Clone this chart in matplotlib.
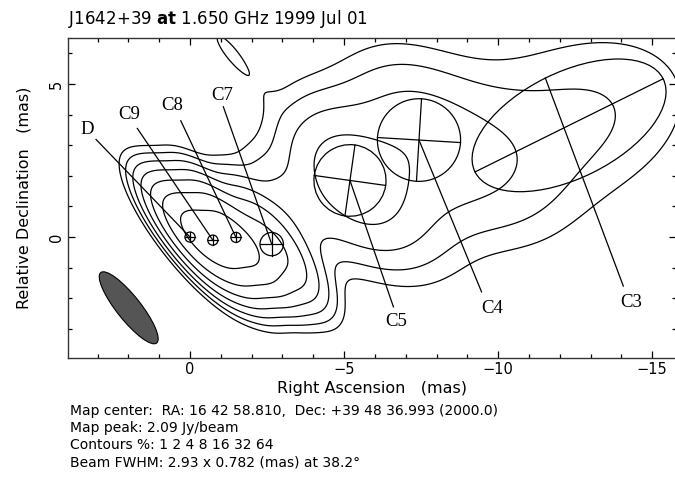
import numpy as np
import matplotlib
matplotlib.use("Agg")
import matplotlib.pyplot as plt
from matplotlib.patches import Ellipse
from matplotlib.ticker import MultipleLocator

# ------------------------------------------------------------
# Model-fit components (offsets in mas, flux in Jy, FWHM in mas,
# position angle in deg, north through east)
# ------------------------------------------------------------
comp_names = ["D", "C9", "C8", "C7", "C5", "C4", "C3"]
comp_ra = [0.0, -0.74, -1.49, -2.65, -5.19, -7.43, -12.30]
comp_dec = [0.0, -0.10, -0.01, -0.23, 1.85, 3.17, 3.65]
comp_flux = [1.0, 1.5, 1.5, 1.0, 0.85, 0.42, 0.60]
comp_maj = [0.33, 0.33, 0.33, 0.76, 2.34, 2.70, 6.82]
comp_min = [0.33, 0.33, 0.33, 0.76, 2.34, 2.70, 3.45]
comp_pa = [0.0, 0.0, 0.0, 0.0, 82.0, 86.5, -63.5]

# faint extended emission around the jet (not labelled)
ext_ra = [-5.0, -7.2, -9.8, -7.0, -3.2, -1.3]
ext_dec = [2.4, 3.5, 2.4, 0.5, 0.9, 6.05]
ext_flux = [0.05, 0.19, 0.22, 0.12, 0.12, 0.022]
ext_fwhm = [3.0, 4.0, 3.0, 2.5, 1.0, 0.0]

# label text positions and start of the leader lines
lab_ra = [3.35, 1.98, 0.59, -1.05, -6.68, -9.79, -14.33]
lab_dec = [3.50, 3.99, 4.31, 4.64, -2.77, -2.33, -2.13]
lead_ra = [3.05, 1.71, 0.30, -1.08, -6.60, -9.46, -14.06]
lead_dec = [3.19, 3.55, 3.80, 4.26, -2.28, -1.79, -1.60]

beam_maj, beam_min, beam_pa = 2.93, 0.782, 38.2
beam_ra, beam_dec = 1.99, -2.31

contour_pct = [1, 2, 4, 8, 16, 32, 64]
map_peak = 2.09

title_txt = r"J1642+39 $\mathbf{at}$ 1.650 GHz 1999 Jul 01"
info_lines = [
    "Map center:  RA: 16 42 58.810,  Dec: +39 48 36.993 (2000.0)",
    "Map peak: %.2f Jy/beam" % map_peak,
    "Contours %%: %s" % " ".join(str(p) for p in contour_pct),
    "Beam FWHM: %.2f x %.3f (mas) at %.1f\u00b0" % (beam_maj, beam_min, beam_pa),
]


def cov(maj, mn, pa):
    k = 1.0 / (2.0 * np.sqrt(2.0 * np.log(2.0)))
    t = np.radians(pa)
    u = np.array([np.sin(t), np.cos(t)])
    v = np.array([np.cos(t), -np.sin(t)])
    return (maj * k) ** 2 * np.outer(u, u) + (mn * k) ** 2 * np.outer(v, v)


def restored(ra, dec, gx, gy, flux, maj, mn, pa):
    """Component convolved with the restoring beam, in Jy/beam."""
    sb = cov(beam_maj, beam_min, beam_pa)
    sc = cov(maj, mn, pa) + sb
    inv = np.linalg.inv(sc)
    dx = gx - ra
    dy = gy - dec
    q = inv[0, 0] * dx * dx + 2 * inv[0, 1] * dx * dy + inv[1, 1] * dy * dy
    return flux * np.sqrt(np.linalg.det(sb) / np.linalg.det(sc)) * np.exp(-0.5 * q)


gra = np.linspace(4.5, -16.5, 421)
gdec = np.linspace(-5.0, 7.5, 251)
GX, GY = np.meshgrid(gra, gdec)

img = np.zeros_like(GX)
for i in range(len(comp_names)):
    img += restored(comp_ra[i], comp_dec[i], GX, GY, comp_flux[i],
                    comp_maj[i], comp_min[i], comp_pa[i])
for i in range(len(ext_ra)):
    img += restored(ext_ra[i], ext_dec[i], GX, GY, ext_flux[i],
                    ext_fwhm[i], ext_fwhm[i], 0.0)

levels = [p / 100.0 * img.max() for p in contour_pct]

# ------------------------------------------------------------
# Figure
# ------------------------------------------------------------
plt.rcParams["font.family"] = ["DejaVu Sans"]
fig = plt.figure(figsize=(6.75, 4.84), dpi=100)
ax = fig.add_axes([68 / 675, 1 - 358.3 / 484, 608 / 675, 320.8 / 484])

ax.contour(GX, GY, img, levels=levels, colors="black", linewidths=0.9)

# beam
ax.add_patch(Ellipse((beam_ra, beam_dec), beam_maj, beam_min,
                     angle=90 - beam_pa, facecolor="#555555",
                     edgecolor="black", linewidth=0.8))

# components with their axes and leader lines
for i, name in enumerate(comp_names):
    x0, y0 = comp_ra[i], comp_dec[i]
    t = np.radians(comp_pa[i])
    u = np.array([np.sin(t), np.cos(t)])
    v = np.array([np.cos(t), -np.sin(t)])
    ax.add_patch(Ellipse((x0, y0), comp_maj[i], comp_min[i],
                         angle=90 - comp_pa[i], fill=False,
                         edgecolor="black", linewidth=0.9))
    a = comp_maj[i] / 2 * u
    ax.plot([x0 - a[0], x0 + a[0]], [y0 - a[1], y0 + a[1]],
            color="black", lw=0.9)
    b = comp_min[i] / 2 * v
    if comp_maj[i] == comp_min[i]:
        ax.plot([x0 - b[0], x0 + b[0]], [y0 - b[1], y0 + b[1]],
                color="black", lw=0.9)
        end = (x0, y0)
    else:
        # leader runs along the minor axis to its far tip
        end = (x0 + b[0], y0 + b[1])
    ax.plot([lead_ra[i], end[0]], [lead_dec[i], end[1]],
            color="black", lw=0.9)
    ax.text(lab_ra[i], lab_dec[i], name, ha="center", va="center",
            family="Liberation Serif", fontsize=13.5)

ax.set_xlim(3.96, -15.77)
ax.set_ylim(-3.96, 6.52)
ax.xaxis.set_major_locator(MultipleLocator(5))
ax.xaxis.set_minor_locator(MultipleLocator(1))
ax.yaxis.set_major_locator(MultipleLocator(5))
ax.yaxis.set_minor_locator(MultipleLocator(1))
ax.tick_params(which="both", direction="in", top=True, right=True,
               width=0.9, labelsize=10.5)
ax.tick_params(which="major", length=5, pad=3)
ax.tick_params(which="minor", length=2.8)
for lab in ax.get_yticklabels():
    lab.set_rotation(90)
    lab.set_va("center")
for s in ax.spines.values():
    s.set_linewidth(1.0)
    s.set_color("#333333")

ax.set_xlabel("Right Ascension   (mas)", fontsize=11.5)
ax.xaxis.label.set_va("center")
ax.xaxis.set_label_coords(0.5, (358.3 - 389) / 320.8)
ax.set_ylabel("Relative Declination   (mas)", fontsize=11.5)
ax.yaxis.label.set_va("center")
ax.yaxis.set_label_coords((24 - 68) / 608, 0.5)

fig.text(68 / 675, 1 - 19 / 484, title_txt, fontsize=12, va="center")
for k, line in enumerate(info_lines):
    fig.text(70 / 675, 1 - (411 + 17.2 * k) / 484, line, fontsize=10,
             va="center")

fig.savefig("out.png", dpi=100)
